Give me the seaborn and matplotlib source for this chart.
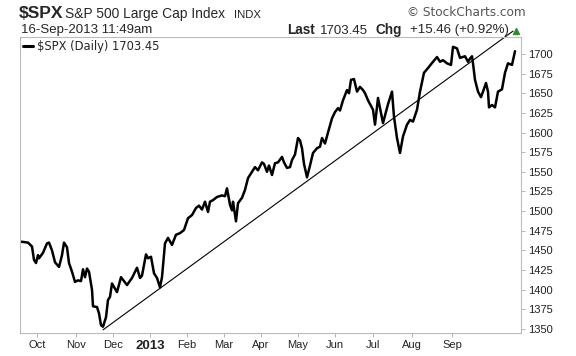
import numpy as np
import pandas as pd
import matplotlib
matplotlib.use("Agg")
import matplotlib.pyplot as plt
import seaborn as sns

# S&P 500 daily closes (session number from chart start, close)
session = [0, 1, 4, 6, 7, 8, 9, 9.5, 11.5, 13.5, 14.5, 16, 17.5, 19.5, 21, 22, 23.5, 24.5,
           26, 27.5, 29, 30.5, 31.5, 32.5, 33.5, 34.5, 36, 36.5, 38.5, 39.5, 40.5, 41.5,
           43, 44, 45, 46, 48.5, 50.5, 53.5, 56, 58.5, 60, 61, 63, 64, 65.5, 67, 68.5,
           70, 71, 72.5, 74, 76, 78, 80, 82, 84, 86, 88, 89.5, 91, 92.5, 94, 95, 96.5,
           98.5, 101, 102.5, 103.5, 105, 106, 106.5, 108, 109, 111, 112.5, 114, 116,
           117.5, 119, 121, 122, 123.5, 124.5, 126, 127.5, 129, 131, 132, 133.5, 135,
           136, 137.5, 139, 140, 141, 142, 143.5, 145, 146.5, 148.5, 150, 151, 152.5,
           154, 156, 157.5, 159, 160, 161.5, 163.5, 164.5, 165.5, 167, 168.5, 170,
           171.5, 172.5, 174, 176.5, 177.5, 179, 181.5, 184, 186, 187, 188.5, 190,
           191.5, 193.5, 195, 196.5, 198.5, 200, 202, 204, 206.5, 208.5, 210, 211.5,
           213.5, 215.5, 216.5, 218.5, 220, 222.5, 224, 225, 226, 226.5, 227.5, 229,
           230.5, 231.5, 233, 234, 234.5, 236, 237.5, 239, 241, 242.5, 244, 246, 247.5]
close = [1461, 1461, 1460, 1455, 1438, 1434, 1444, 1440, 1447, 1459, 1460, 1450, 1435,
         1429, 1444, 1460, 1454, 1434, 1423, 1410, 1412, 1411, 1426, 1416, 1427, 1423,
         1400, 1379, 1378, 1370, 1355, 1353, 1365, 1387, 1391, 1408, 1397, 1416, 1406,
         1415, 1428, 1415, 1418, 1445, 1440, 1442, 1421, 1415, 1403, 1416, 1459, 1466,
         1457, 1470, 1472, 1476, 1491, 1495, 1504, 1507, 1502, 1512, 1499, 1512, 1514,
         1518, 1520, 1519, 1529, 1508, 1501, 1512, 1487, 1510, 1517, 1527, 1542, 1550,
         1556, 1552, 1562, 1560, 1550, 1558, 1546, 1561, 1562, 1569, 1562, 1555, 1556,
         1565, 1572, 1593, 1590, 1580, 1560, 1543, 1558, 1574, 1580, 1582, 1593, 1586,
         1600, 1618, 1626, 1631, 1628, 1641, 1654, 1650, 1667, 1668, 1652, 1658, 1654,
         1650, 1641, 1629, 1610, 1644, 1612, 1636, 1652, 1620, 1593, 1574, 1595, 1610,
         1616, 1614, 1629, 1652, 1676, 1682, 1690, 1696, 1690, 1692, 1688, 1686, 1709,
         1707, 1695, 1697, 1690, 1694, 1697, 1688, 1667, 1652, 1645, 1652, 1663, 1652,
         1632, 1635, 1632, 1652, 1655, 1676, 1688, 1686, 1703.45]

# trendline drawn from the November low
trend_x = [41.5, 246.5]
trend_y = [1349, 1729]

month_labels = ["Oct", "Nov", "Dec", "2013", "Feb", "Mar", "Apr", "May", "Jun", "Jul", "Aug", "Sep"]
month_pos = [8.5, 28, 46.5, 65, 83.5, 102, 120.5, 139, 157.5, 176.5, 196, 216]
yticks = list(range(1350, 1701, 25))

df = pd.DataFrame({"session": session, "close": close})

sns.set_style("white")
plt.rcParams["font.family"] = ["Liberation Sans", "DejaVu Sans"]

W, H = 576, 356
fig = plt.figure(figsize=(W / 100, H / 100), dpi=100)
ax = fig.add_axes([20 / W, 1 - 333 / H, (521 - 20) / W, (333 - 37) / H])

sns.lineplot(data=df, x="session", y="close", ax=ax, color="black", linewidth=1.8,
             estimator=None, label="$SPX (Daily) 1703.45")
ax.plot(trend_x, trend_y, color="black", linewidth=0.8, clip_on=False)
ax.plot([248.2], [1729.5], marker="^", color="#2e8b2e", markersize=5, clip_on=False)

ax.set_xlim(0, 250.5)
ax.set_ylim(1345, 1721.5)
ax.set_xlabel("")
ax.set_ylabel("")

ax.yaxis.tick_right()
ax.set_yticks(yticks)
ax.set_yticklabels([str(v) for v in yticks], fontsize=8, color="#222222")
ax.set_xticks(month_pos)
ax.set_xticklabels(month_labels, fontsize=8, color="#222222")
for lbl in ax.get_xticklabels():
    if lbl.get_text() == "2013":
        lbl.set_fontweight("bold")
        lbl.set_fontsize(9.5)
ax.tick_params(axis="both", length=3, width=0.6, color="#aaaaaa", pad=2)
ax.tick_params(axis="y", right=True, left=False)
ax.tick_params(axis="x", bottom=True)

for sp in ax.spines.values():
    sp.set_color("#bbbbbb")
    sp.set_linewidth(0.8)

leg = ax.legend(loc="upper left", frameon=False, handlelength=0.8, handletextpad=0.4,
                borderaxespad=0.1, borderpad=0.2, prop={"family": "DejaVu Sans", "size": 8.3})
for h in leg.get_lines():
    h.set_linewidth(2.2)

def ft(x, y, s, **kw):
    fig.text(x / W, 1 - y / H, s, va="center", **kw)

ft(19, 13, "$SPX", fontsize=12.5, fontweight="bold")
ft(65, 14, "S&P 500 Large Cap Index", fontsize=9.9)
ft(234, 14.5, "INDX", fontsize=8.2)
ft(21, 30, "16-Sep-2013 11:49am", fontsize=9.5)
ft(287, 30, "Last", fontsize=9.8, fontweight="bold")
ft(320, 30.5, "1703.45", fontsize=9.5)
ft(376, 30, "Chg", fontsize=9.8, fontweight="bold")
ft(509, 30.5, "+15.46 (+0.92%)", fontsize=9.5, ha="right")
ft(407, 13, "\u00a9 StockCharts.com", fontsize=8.7, color="#555555", family=["DejaVu Sans"])

fig.savefig("out.png", dpi=100)
